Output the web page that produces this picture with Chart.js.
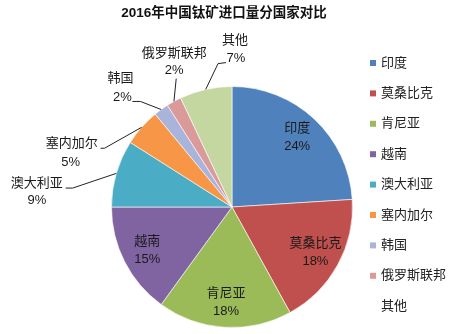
<!DOCTYPE html>
<html>
<head>
<meta charset="utf-8">
<script src="https://cdn.jsdelivr.net/npm/chart.js@4/dist/chart.umd.min.js"></script>
<style>
  html, body { margin: 0; padding: 0; background: #ffffff; }
  #wrap { width: 475px; height: 334px; position: relative; }
</style>
</head>
<body>
<div id="wrap"><canvas id="c" width="475" height="334"></canvas></div>
<script>
// ---- data ----
const chartTitle = '2016年中国钛矿进口量分国家对比';
const countries = ['印度', '莫桑比克', '肯尼亚', '越南', '澳大利亚', '塞内加尔', '韩国', '俄罗斯联邦', '其他'];
const shares = [24, 18, 18, 15, 9, 5, 2, 2, 7];

// ---- style ----
const sliceColors = ['#4F81BD', '#C0504D', '#9BBB59', '#8064A2', '#4BACC6', '#F79646', '#AAB3DA', '#DA9A99', '#C4D7A0'];
const legendSwatches = ['#4F81BD', '#C0504D', '#9BBB59', '#8064A2', '#4BACC6', '#F79646', '#AAB3DA', '#DA9A99', 'rgba(0,0,0,0)'];
const FONT = '"Liberation Sans", "Noto Sans CJK SC", sans-serif';
// label placement (offsets from pie centre, in px at radius 121); null = inside label
const outerLabelLayout = [
  null, null, null, null,
  { name: [-196, -24], pct: [-196, -7], line: [[-167, -19], [-160, -19]] },
  { name: [-161, -64], pct: [-162, -45], line: [[-132, -59], [-128, -59]] },
  { name: [-112, -129], pct: [-110, -110], line: [[-100, -106], [-92, -106]] },
  { name: [-58, -154], pct: [-58, -137], line: [[-56, -129]] },
  { name: [3, -167], pct: [4, -149], line: [[-6, -145], [-14, -144]] }
];

const labelPlugin = {
  id: 'sliceLabels',
  afterDatasetsDraw(chart) {
    const ctx = chart.ctx;
    const meta = chart.getDatasetMeta(0);
    const vals = chart.data.datasets[0].data;
    const total = vals.reduce((a, b) => a + b, 0);
    ctx.save();
    ctx.font = '13px ' + FONT;
    ctx.textAlign = 'center';
    ctx.textBaseline = 'middle';
    meta.data.forEach((arc, i) => {
      const p = arc.getProps(['x', 'y', 'startAngle', 'endAngle', 'outerRadius'], true);
      const mid = (p.startAngle + p.endAngle) / 2;
      const pct = Math.round(vals[i] / total * 100) + '%';
      const name = chart.data.labels[i];
      const lay = outerLabelLayout[i];
      if (!lay) {
        const r = p.outerRadius * 0.79;
        const tx = p.x + Math.cos(mid) * r;
        const ty = p.y + Math.sin(mid) * r;
        ctx.fillStyle = '#1a1a1a';
        ctx.fillText(name, tx, ty - 9);
        ctx.fillText(pct, tx, ty + 9);
      } else {
        const k = p.outerRadius / 121;
        const ex = p.x + Math.cos(mid) * p.outerRadius;
        const ey = p.y + Math.sin(mid) * p.outerRadius;
        ctx.strokeStyle = '#222';
        ctx.lineWidth = 1;
        ctx.beginPath();
        lay.line.forEach((pt, j) => {
          const lx = p.x + pt[0] * k, ly = p.y + pt[1] * k;
          if (j === 0) ctx.moveTo(lx, ly); else ctx.lineTo(lx, ly);
        });
        ctx.lineTo(ex, ey);
        ctx.stroke();
        ctx.fillStyle = '#1a1a1a';
        ctx.fillText(name, p.x + lay.name[0] * k, p.y + lay.name[1] * k);
        ctx.fillText(pct, p.x + lay.pct[0] * k, p.y + lay.pct[1] * k);
      }
    });
    ctx.restore();
  }
};

const legendPlugin = {
  id: 'sideLegend',
  afterDraw(chart) {
    const ctx = chart.ctx;
    const labels = chart.data.labels;
    ctx.save();
    // title
    ctx.font = 'bold 13.5px ' + FONT;
    ctx.textAlign = 'center';
    ctx.textBaseline = 'middle';
    ctx.fillStyle = '#111';
    ctx.fillText(chartTitle, 224, 13.5);
    // legend
    ctx.font = '13px ' + FONT;
    ctx.textAlign = 'left';
    const x0 = 370, y0 = 63, pitch = 30.4, box = 6;
    labels.forEach((lab, i) => {
      const y = y0 + i * pitch;
      ctx.fillStyle = legendSwatches[i];
      ctx.fillRect(x0, y - box / 2, box, box);
      ctx.fillStyle = '#222';
      ctx.fillText(lab, x0 + 11, y);
    });
    ctx.restore();
  }
};

new Chart(document.getElementById('c'), {
  type: 'pie',
  data: {
    labels: countries,
    datasets: [{
      data: shares,
      backgroundColor: sliceColors,
      borderColor: 'rgba(255,255,255,0.6)',
      borderWidth: 1
    }]
  },
  options: {
    responsive: false,
    animation: false,
    layout: { padding: { left: 111, right: 122, top: 86, bottom: 6 } },
    plugins: {
      legend: { display: false },
      tooltip: { enabled: false },
      title: { display: false }
    }
  },
  plugins: [labelPlugin, legendPlugin]
});
</script>
</body>
</html>
